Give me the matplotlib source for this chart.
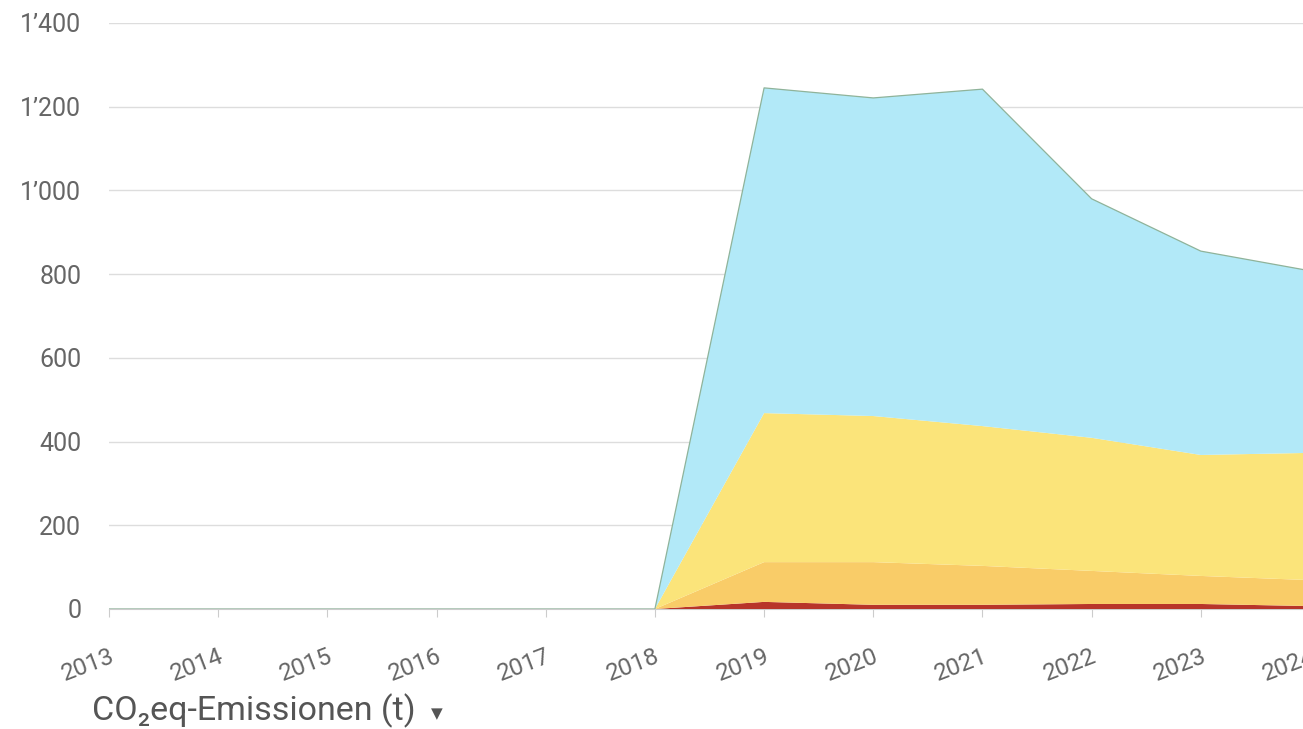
import matplotlib
matplotlib.use("Agg")
import matplotlib.pyplot as plt
import numpy as np

years = [2013, 2014, 2015, 2016, 2017, 2018, 2019, 2020, 2021, 2022, 2023, 2024]
# stacked layers, bottom to top (t CO2eq)
dark_red = [0, 0, 0, 0, 0, 0, 17, 10, 10, 12, 12, 7]
orange = [0, 0, 0, 0, 0, 0, 95, 102, 93, 79, 67, 62]
yellow = [0, 0, 0, 0, 0, 0, 356, 349, 334, 318, 289, 304]
light_blue = [0, 0, 0, 0, 0, 0, 777, 760, 805, 571, 487, 435]

colors = ["#b8352a", "#f9cc68", "#fbe47a", "#b2e9f8"]
y_ticks = [0, 200, 400, 600, 800, 1000, 1200, 1400]

plt.rcParams["font.family"] = ["Roboto", "DejaVu Sans"]

fig = plt.figure(figsize=(13.03, 7.29), dpi=100)
ax = fig.add_axes([109 / 1303, 120 / 729, 1201 / 1303, 586 / 729])

ax.stackplot(years, dark_red, orange, yellow, light_blue, colors=colors, linewidth=0)
total = np.sum([dark_red, orange, yellow, light_blue], axis=0)
ax.plot(years, total, color="#8fb39a", linewidth=0.9)

ax.set_xlim(2013, 2024)
ax.set_ylim(0, 1400)
ax.set_xticks(years)
ax.set_xticklabels([str(y) for y in years], rotation=21, fontsize=17.5, color="#666666",
                   ha="right", rotation_mode="anchor")
ax.set_yticks(y_ticks)
ax.set_yticklabels([f"{v:,}".replace(",", "\u2019") for v in y_ticks], fontsize=18, color="#666666")
ax.tick_params(axis="y", length=0, pad=20)
ax.tick_params(axis="x", length=6, color="#cccccc", pad=20)

ax.grid(axis="y", color="#dddddd", linewidth=1)
ax.set_axisbelow(True)
for side in ["top", "right", "left"]:
    ax.spines[side].set_visible(False)
ax.spines["bottom"].set_color("#cccccc")
ax.spines["bottom"].set_zorder(0.5)

fig.text(92 / 1303, 1 - 711 / 729, "CO\u2082eq-Emissionen (t)", fontsize=24.5, color="#555555",
         va="center", ha="left")
fig.text(431 / 1303, 1 - 714 / 729, "\u25bc", fontsize=11, color="#555555", va="center", ha="left",
         family="DejaVu Sans")

fig.savefig("out.png", dpi=100)
